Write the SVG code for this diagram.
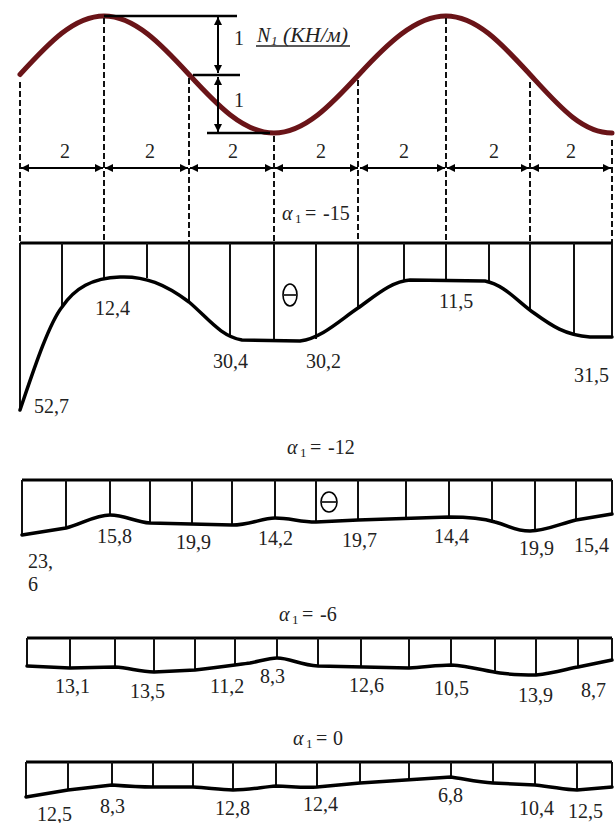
<svg xmlns="http://www.w3.org/2000/svg" width="616" height="823" viewBox="0 0 616 823" font-family="'Liberation Serif', Tinos, 'DejaVu Serif', serif">
<defs>
<marker id="ar" viewBox="0 0 10 10" refX="10" refY="5" markerWidth="10" markerHeight="8" markerUnits="userSpaceOnUse" orient="auto-start-reverse">
<path d="M0,0 L10,5 L0,10 z" fill="#000"/>
</marker>
<style>
text{font-family:'Liberation Serif',Tinos,'DejaVu Serif',serif;fill:#222;}
.lbl{font-size:20px;}
.al{font-size:20px;}
.sub{font-size:13px;}
.dash{stroke:#111;stroke-width:2;stroke-dasharray:6,3;fill:none;}
.dim{stroke:#000;stroke-width:2;fill:none;marker-start:url(#ar);marker-end:url(#ar);}
.top{stroke:#000;stroke-width:3;fill:none;}
.v{stroke:#111;stroke-width:2;fill:none;}
.crv{stroke:#000;stroke-width:3.5;fill:none;stroke-linejoin:round;stroke-linecap:round;}
.minus{stroke:#000;stroke-width:1.6;fill:none;}
</style>
</defs>
<rect width="616" height="823" fill="#fff"/>

<g id="load-wave">
<path d="M20,74.5 C47.6,44.5 73.4,16 104,16 C134.6,16 161.4,44.5 189,74.5 C216.6,104.5 243.4,133 274,133 C304.6,133 331.4,104.5 359,74.5 C386.6,44.5 415.4,16 446,16 C476.6,16 502.4,44.5 530,74.5 C557.6,104.5 581.4,133 612,133" fill="none" stroke="#6a1418" stroke-width="5" stroke-linecap="round"/>
</g>

<g id="dimensions">
<line x1="104" y1="16" x2="237" y2="16" stroke="#000" stroke-width="2.5"/>
<line x1="193" y1="75" x2="240" y2="75" stroke="#000" stroke-width="2.5"/>
<line x1="207" y1="133" x2="270" y2="133" stroke="#000" stroke-width="2.5"/>
<path class="dim" d="M218,17 L218,73"/>
<path class="dim" d="M218,77 L218,132"/>
<text class="lbl" x="234" y="45">1</text>
<text class="lbl" x="234" y="107">1</text>
<text font-size="20" font-style="italic" y="42"><tspan x="257">N</tspan><tspan class="sub" x="271" dy="3">1</tspan><tspan x="283" dy="-3" textLength="65" lengthAdjust="spacingAndGlyphs">(КН/м)</tspan></text>
<line x1="256" y1="46" x2="350" y2="46" stroke="#222" stroke-width="1.3"/>
<path class="dim" d="M21,168 L103,168"/>
<path class="dim" d="M105,168 L188,168"/>
<path class="dim" d="M190,168 L273,168"/>
<path class="dim" d="M275,168 L358,168"/>
<path class="dim" d="M360,168 L445,168"/>
<path class="dim" d="M447,168 L529,168"/>
<path class="dim" d="M531,168 L611,168"/>
<text class="lbl" x="65" y="158" text-anchor="middle">2</text>
<text class="lbl" x="150" y="158" text-anchor="middle">2</text>
<text class="lbl" x="233" y="158" text-anchor="middle">2</text>
<text class="lbl" x="321" y="158" text-anchor="middle">2</text>
<text class="lbl" x="404" y="158" text-anchor="middle">2</text>
<text class="lbl" x="494" y="158" text-anchor="middle">2</text>
<text class="lbl" x="571" y="158" text-anchor="middle">2</text>
</g>

<g id="dashed-lines">
<line class="dash" x1="20" y1="82" x2="20" y2="243"/>
<line class="dash" x1="104" y1="18" x2="104" y2="243"/>
<line class="dash" x1="189" y1="78" x2="189" y2="243"/>
<line class="dash" x1="274" y1="136" x2="274" y2="243"/>
<line class="dash" x1="358" y1="80" x2="358" y2="243"/>
<line class="dash" x1="446" y1="18" x2="446" y2="243"/>
<line class="dash" x1="530" y1="82" x2="530" y2="243"/>
<line class="dash" x1="612" y1="140" x2="612" y2="243"/>
</g>

<g id="diagram-a15">
<text class="al" y="220"><tspan x="282" font-style="italic">α</tspan><tspan class="sub" x="295" dy="3">1</tspan><tspan x="305" dy="-3">=</tspan><tspan x="323">-15</tspan></text>
<line class="top" x1="20" y1="243" x2="612" y2="243"/>
<g class="v">
<line x1="20" y1="243" x2="20" y2="410"/>
<line x1="62" y1="243" x2="62" y2="307"/>
<line x1="104" y1="243" x2="104" y2="280"/>
<line x1="147" y1="243" x2="147" y2="278"/>
<line x1="189" y1="243" x2="189" y2="302"/>
<line x1="230" y1="243" x2="230" y2="337"/>
<line x1="274" y1="243" x2="274" y2="341"/>
<line x1="316" y1="243" x2="316" y2="339"/>
<line x1="358" y1="243" x2="358" y2="308"/>
<line x1="404" y1="243" x2="404" y2="281"/>
<line x1="446" y1="243" x2="446" y2="281"/>
<line x1="489" y1="243" x2="489" y2="283"/>
<line x1="530" y1="243" x2="530" y2="310"/>
<line x1="574" y1="243" x2="574" y2="334"/>
<line x1="612" y1="243" x2="612" y2="337"/>
</g>
<path class="crv" d="M20,410 C32,375 48,325 62,307 C75,288 92,278 120,277 C145,276 165,284 189,302 C208,318 220,336 242,340 L300,341 C322,338 340,320 358,308 C375,296 392,281 410,280 L485,281 C505,285 518,302 534,313 C552,326 565,335 590,337 L612,337"/>
<ellipse class="minus" cx="290" cy="295" rx="7" ry="11"/>
<line class="minus" x1="284" y1="295" x2="296" y2="295"/>
<text class="lbl" x="95" y="315">12,4</text>
<text class="lbl" x="34" y="413">52,7</text>
<text class="lbl" x="213" y="368">30,4</text>
<text class="lbl" x="306" y="368">30,2</text>
<text class="lbl" x="439" y="308">11,5</text>
<text class="lbl" x="574" y="382">31,5</text>
</g>

<g id="diagram-a12">
<text class="al" y="454"><tspan x="287" font-style="italic">α</tspan><tspan class="sub" x="300" dy="3">1</tspan><tspan x="310" dy="-3">=</tspan><tspan x="328">-12</tspan></text>
<line class="top" x1="22" y1="480" x2="612" y2="480"/>
<g class="v">
<line x1="22" y1="480" x2="22" y2="535"/>
<line x1="66" y1="480" x2="66" y2="528"/>
<line x1="110" y1="480" x2="110" y2="515"/>
<line x1="150" y1="480" x2="150" y2="523"/>
<line x1="192" y1="480" x2="192" y2="525"/>
<line x1="232" y1="480" x2="232" y2="525"/>
<line x1="275" y1="480" x2="275" y2="518"/>
<line x1="316" y1="480" x2="316" y2="522"/>
<line x1="358" y1="480" x2="358" y2="520"/>
<line x1="406" y1="480" x2="406" y2="518"/>
<line x1="449" y1="480" x2="449" y2="517"/>
<line x1="492" y1="480" x2="492" y2="521"/>
<line x1="535" y1="480" x2="535" y2="531"/>
<line x1="576" y1="480" x2="576" y2="520"/>
<line x1="612" y1="480" x2="612" y2="514"/>
</g>
<path class="crv" d="M22,535 L66,528 C82,524 95,515 110,515 C125,515 135,522 150,523 L232,525 C250,525 262,518 275,518 C290,518 300,522 316,522 L358,520 L449,517 C470,517 485,519 495,522 C510,526 515,531 530,531 C545,531 560,524 576,520 L612,514"/>
<ellipse class="minus" cx="329" cy="502" rx="8" ry="10"/>
<line class="minus" x1="322" y1="502" x2="336" y2="502"/>
<text class="lbl" x="28" y="568">23,</text>
<text class="lbl" x="28" y="591">6</text>
<text class="lbl" x="97" y="543">15,8</text>
<text class="lbl" x="176" y="549">19,9</text>
<text class="lbl" x="258" y="545">14,2</text>
<text class="lbl" x="342" y="547">19,7</text>
<text class="lbl" x="434" y="543">14,4</text>
<text class="lbl" x="519" y="555">19,9</text>
<text class="lbl" x="574" y="552">15,4</text>
</g>

<g id="diagram-a6">
<text class="al" y="621"><tspan x="279" font-style="italic">α</tspan><tspan class="sub" x="292" dy="3">1</tspan><tspan x="302" dy="-3">=</tspan><tspan x="320">-6</tspan></text>
<line class="top" x1="27" y1="638" x2="612" y2="638"/>
<g class="v">
<line x1="27" y1="638" x2="27" y2="666"/>
<line x1="70" y1="638" x2="70" y2="668"/>
<line x1="115" y1="638" x2="115" y2="667"/>
<line x1="154" y1="638" x2="154" y2="672"/>
<line x1="195" y1="638" x2="195" y2="670"/>
<line x1="235" y1="638" x2="235" y2="665"/>
<line x1="277" y1="638" x2="277" y2="658"/>
<line x1="318" y1="638" x2="318" y2="666"/>
<line x1="361" y1="638" x2="361" y2="668"/>
<line x1="409" y1="638" x2="409" y2="668"/>
<line x1="451" y1="638" x2="451" y2="665"/>
<line x1="495" y1="638" x2="495" y2="673"/>
<line x1="536" y1="638" x2="536" y2="675"/>
<line x1="578" y1="638" x2="578" y2="667"/>
<line x1="612" y1="638" x2="612" y2="660"/>
</g>
<path class="crv" d="M27,666 L70,668 L115,667 C130,668 140,672 154,672 L195,670 C215,668 235,665 250,663 C260,661 270,658 277,658 C290,658 300,665 318,666 L409,668 C425,667 440,665 451,665 C470,666 485,671 500,673 C515,675 525,675 536,675 C555,673 570,668 578,667 L612,660"/>
<text class="lbl" x="55" y="693">13,1</text>
<text class="lbl" x="130" y="698">13,5</text>
<text class="lbl" x="210" y="693">11,2</text>
<text class="lbl" x="260" y="683">8,3</text>
<text class="lbl" x="349" y="692">12,6</text>
<text class="lbl" x="434" y="695">10,5</text>
<text class="lbl" x="518" y="702">13,9</text>
<text class="lbl" x="581" y="697">8,7</text>
</g>

<g id="diagram-a0">
<text class="al" y="745"><tspan x="293" font-style="italic">α</tspan><tspan class="sub" x="306" dy="3">1</tspan><tspan x="316" dy="-3">=</tspan><tspan x="333">0</tspan></text>
<line class="top" x1="26" y1="762" x2="612" y2="762"/>
<g class="v">
<line x1="26" y1="762" x2="26" y2="797"/>
<line x1="68" y1="762" x2="68" y2="790"/>
<line x1="112" y1="762" x2="112" y2="785"/>
<line x1="153" y1="762" x2="153" y2="787"/>
<line x1="193" y1="762" x2="193" y2="787"/>
<line x1="233" y1="762" x2="233" y2="790"/>
<line x1="276" y1="762" x2="276" y2="786"/>
<line x1="317" y1="762" x2="317" y2="787"/>
<line x1="360" y1="762" x2="360" y2="783"/>
<line x1="409" y1="762" x2="409" y2="780"/>
<line x1="451" y1="762" x2="451" y2="777"/>
<line x1="493" y1="762" x2="493" y2="783"/>
<line x1="535" y1="762" x2="535" y2="785"/>
<line x1="577" y1="762" x2="577" y2="790"/>
<line x1="612" y1="762" x2="612" y2="787"/>
</g>
<path class="crv" d="M26,797 L68,790 L112,785 C125,786 140,787 153,787 L193,787 C210,788 220,790 233,790 C250,790 262,787 276,786 C290,786 300,788 317,787 L360,783 L451,777 C465,779 478,782 493,783 L535,785 C555,787 565,790 577,790 L612,787"/>
<text class="lbl" x="37" y="821">12,5</text>
<text class="lbl" x="100" y="813">8,3</text>
<text class="lbl" x="215" y="815">12,8</text>
<text class="lbl" x="303" y="811">12,4</text>
<text class="lbl" x="438" y="802">6,8</text>
<text class="lbl" x="519" y="815">10,4</text>
<text class="lbl" x="568" y="818">12,5</text>
</g>
</svg>
